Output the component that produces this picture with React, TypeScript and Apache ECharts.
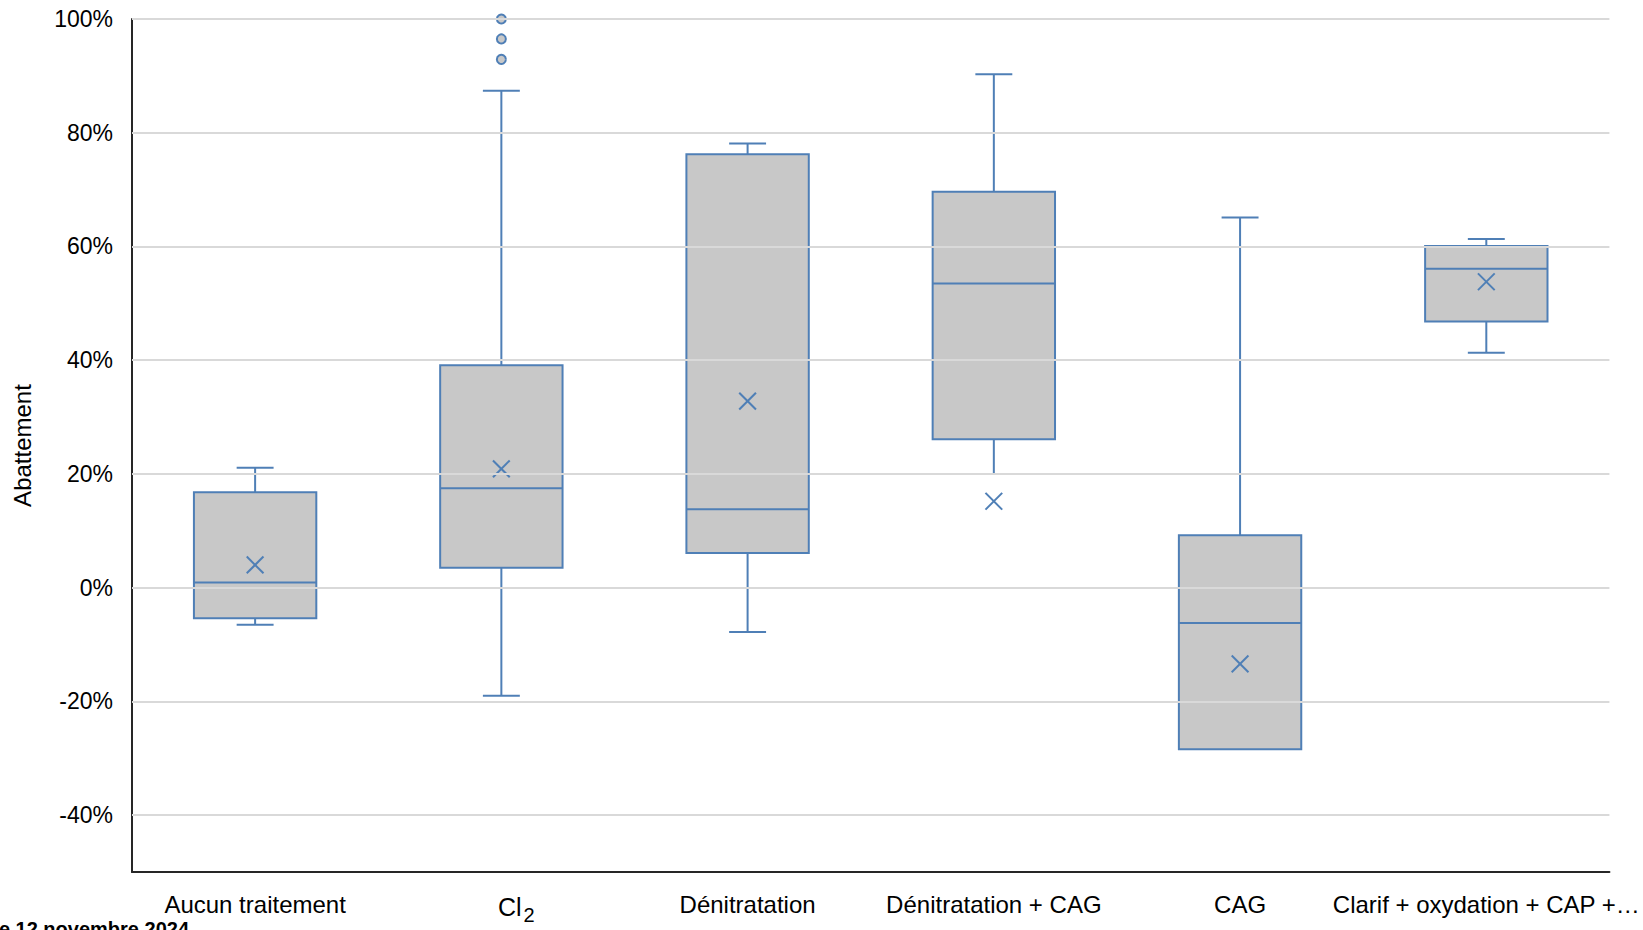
import React, { useEffect, useRef } from "react";
import * as echarts from "echarts";

const categories = [
  "Aucun traitement",
  "Cl2",
  "Dénitratation",
  "Dénitratation + CAG",
  "CAG",
  "Clarif + oxydation + CAP +…",
];
const mins = [-6.5, -19.0, -7.8, 20.0, -28.4, 41.3];
const q1s = [-5.4, 3.5, 6.1, 26.1, -28.4, 46.8];
const medians = [0.9, 17.5, 13.8, 53.5, -6.2, 56.1];
const q3s = [16.8, 39.1, 76.2, 69.6, 9.2, 60.1];
const maxs = [21.1, 87.4, 78.1, 90.3, 65.1, 61.3];
const means = [4.0, 20.9, 32.8, 15.2, -13.4, 53.8];
const outliers: [number, number][] = [
  [1, 100],
  [1, 96.5],
  [1, 92.9],
];
const yTicks = [-40, -20, 0, 20, 40, 60, 80, 100];
const yMin = -50;
const yMax = 100;
const yTitle = "Abattement";
const dateNote = "Mise à jour le 12 novembre 2024";

const BLUE = "#4f7fb6";
const GREY = "#c8c8c8";
const FONT = "'Liberation Sans', Arial, sans-serif";

export default function App() {
  const ref = useRef<HTMLDivElement>(null);

  useEffect(() => {
    document.body.style.margin = "0";
    if (!ref.current) return;
    const chart = echarts.init(ref.current, undefined, { renderer: "svg" });

    const boxData = categories.map((_, i) => [
      i,
      mins[i],
      q1s[i],
      medians[i],
      q3s[i],
      maxs[i],
      means[i],
    ]);

    const option: any = {
      animation: false,
      backgroundColor: "#ffffff",
      textStyle: { fontFamily: FONT },
      grid: { left: 132, right: 33, top: 19, bottom: 58 },
      xAxis: {
        type: "category",
        data: categories,
        boundaryGap: true,
        axisLine: { show: true, onZero: false, lineStyle: { color: "#262626", width: 2 } },
        axisTick: { show: false },
        splitLine: { show: false },
        axisLabel: {
          interval: 0,
          margin: 20,
          color: "#000",
          fontSize: 24,
          fontFamily: FONT,
          formatter: (v: string) => (v === "Cl2" ? "{n|Cl}{s|2}" : v),
          rich: {
            n: {
              fontSize: 25,
              lineHeight: 30,
              color: "#000",
              fontFamily: FONT,
              padding: [5, 0, 6, 30],
            },
            s: {
              fontSize: 20,
              lineHeight: 30,
              color: "#000",
              fontFamily: FONT,
              padding: [16, 0, 0, 2],
            },
          },
        },
      },
      yAxis: {
        type: "value",
        min: yMin,
        max: yMax,
        interval: 10,
        name: yTitle,
        nameLocation: "middle",
        nameRotate: 90,
        nameGap: 98,
        nameTextStyle: { fontSize: 24, color: "#000", fontFamily: FONT },
        axisLine: { show: true, lineStyle: { color: "#262626", width: 2 } },
        axisTick: { show: false },
        splitLine: { show: false },
        axisLabel: {
          margin: 19,
          color: "#000",
          fontSize: 23,
          fontFamily: FONT,
          formatter: (v: number) => (yTicks.indexOf(Math.round(v)) >= 0 ? `${Math.round(v)}%` : ""),
        },
      },
      series: [
        {
          type: "scatter",
          data: [],
          z: 1,
          silent: true,
          markLine: {
            silent: true,
            symbol: ["none", "none"],
            label: { show: false },
            lineStyle: { color: "#d9d9d9", width: 2, type: "solid" },
            data: yTicks.map((v) => ({ yAxis: v })),
          },
        },
        {
          type: "custom",
          z: 3,
          data: boxData,
          encode: { x: 0, y: [1, 2, 3, 4, 5, 6] },
          renderItem: (params: any, api: any) => {
            const i = api.value(0);
            const cx = api.coord([i, 0])[0];
            const y = (k: number) => api.coord([i, api.value(k)])[1];
            const yLo = y(1);
            const yQ1 = y(2);
            const yMed = y(3);
            const yQ3 = y(4);
            const yHi = y(5);
            const yMean = y(6);
            const band = api.size([1, 0])[0];
            const bw = band * 0.497;
            const cap = band * 0.075;
            const xs = band * 0.034;
            const ls = { stroke: BLUE, lineWidth: 2, fill: "none" };
            const children: any[] = [];
            if (Math.abs(yLo - yQ1) > 0.5) {
              children.push({ type: "line", shape: { x1: cx, y1: yQ1, x2: cx, y2: yLo }, style: ls });
              children.push({ type: "line", shape: { x1: cx - cap, y1: yLo, x2: cx + cap, y2: yLo }, style: ls });
            }
            if (Math.abs(yHi - yQ3) > 0.5) {
              children.push({ type: "line", shape: { x1: cx, y1: yQ3, x2: cx, y2: yHi }, style: ls });
              children.push({ type: "line", shape: { x1: cx - cap, y1: yHi, x2: cx + cap, y2: yHi }, style: ls });
            }
            children.push({
              type: "rect",
              shape: { x: cx - bw / 2, y: yQ3, width: bw, height: yQ1 - yQ3 },
              style: { fill: GREY, stroke: BLUE, lineWidth: 2 },
            });
            children.push({
              type: "line",
              shape: { x1: cx - bw / 2, y1: yMed, x2: cx + bw / 2, y2: yMed },
              style: ls,
            });
            children.push({
              type: "line",
              shape: { x1: cx - xs, y1: yMean - xs, x2: cx + xs, y2: yMean + xs },
              style: ls,
            });
            children.push({
              type: "line",
              shape: { x1: cx - xs, y1: yMean + xs, x2: cx + xs, y2: yMean - xs },
              style: ls,
            });
            return { type: "group", children };
          },
        },
        {
          type: "scatter",
          z: 4,
          data: outliers,
          symbol: "circle",
          symbolSize: 9,
          clip: false,
          itemStyle: { color: GREY, borderColor: BLUE, borderWidth: 2, opacity: 1 },
        },
      ],
      graphic: [
        {
          type: "text",
          x: 189,
          y: 919,
          style: {
            text: dateNote,
            align: "right",
            verticalAlign: "top",
            fontSize: 20,
            fontWeight: "bold",
            fill: "#000",
            fontFamily: FONT,
          },
        },
      ],
    };

    chart.setOption(option);
    return () => chart.dispose();
  }, []);

  return <div ref={ref} style={{ width: 1643, height: 930 }} />;
}
